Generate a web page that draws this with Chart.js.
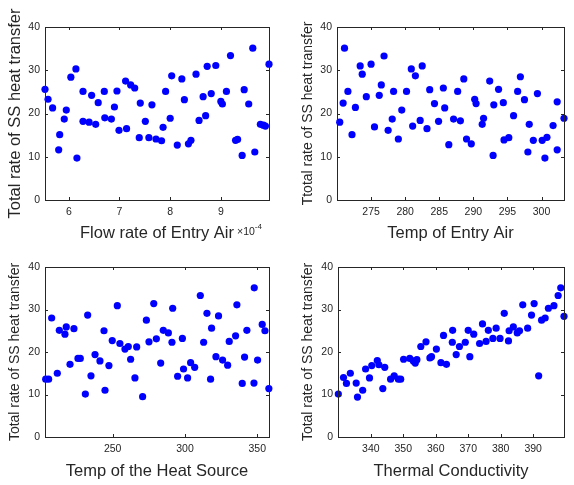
<!DOCTYPE html>
<html>
<head>
<meta charset="utf-8">
<script src="https://cdn.jsdelivr.net/npm/chart.js@4.4.1/dist/chart.umd.min.js"></script>
<style>
  html, body { margin: 0; padding: 0; background: #fff; }
  body { width: 574px; height: 485px; position: relative; overflow: hidden; }
  canvas { position: absolute; }
</style>
</head>
<body>
<canvas id="c1" width="287" height="245" style="left:0;top:0"></canvas>
<canvas id="c2" width="287" height="245" style="left:287px;top:0"></canvas>
<canvas id="c3" width="287" height="240" style="left:0;top:245px"></canvas>
<canvas id="c4" width="287" height="240" style="left:287px;top:245px"></canvas>
<script>
// flow rate of entry air, in units of 1e-4
var flowX = [5.53, 5.59, 5.68, 5.80, 5.82, 5.91, 5.95, 6.04, 6.14, 6.16, 6.28, 6.28, 6.40, 6.45, 6.53, 6.58,
  6.70, 6.71, 6.84, 6.90, 6.95, 6.99, 7.12, 7.14, 7.22, 7.30, 7.39, 7.41, 7.51, 7.58, 7.64, 7.72,
  7.83, 7.86, 7.91, 8.00, 8.03, 8.14, 8.23, 8.28, 8.36, 8.41, 8.51, 8.57, 8.65, 8.70, 8.73, 8.81,
  8.90, 9.00, 9.03, 9.11, 9.19, 9.29, 9.33, 9.42, 9.46, 9.55, 9.63, 9.67, 9.78, 9.84, 9.88, 9.95];
var flowY = [25.6, 23.3, 21.3, 11.6, 15.1, 18.7, 20.8, 28.4, 30.3, 9.7, 25.1, 18.2, 18.0, 24.2, 17.5, 22.5,
  25.1, 19.0, 18.7, 21.5, 25.2, 16.1, 27.5, 16.5, 26.6, 25.9, 14.4, 22.4, 18.2, 14.4, 22.0, 14.1,
  13.7, 16.8, 25.1, 18.9, 28.7, 12.7, 28.0, 23.2, 13.0, 13.8, 29.1, 18.4, 23.9, 19.5, 30.9, 24.6,
  31.1, 22.8, 22.2, 25.1, 33.4, 13.8, 14.0, 10.3, 25.5, 22.2, 35.1, 11.1, 17.5, 17.3, 17.1, 31.4];

var entryTempX = [270.4, 270.9, 271.1, 271.6, 272.2, 272.7, 273.4, 273.7, 274.3, 275.0, 275.5, 276.2, 276.5, 276.9, 277.5, 278.1,
  278.3, 279.0, 279.5, 280.2, 280.9, 281.1, 281.5, 282.2, 282.5, 283.2, 283.6, 284.3, 284.9, 285.6, 285.8, 286.4,
  287.1, 287.7, 288.1, 288.6, 289.0, 289.7, 290.2, 290.4, 291.3, 291.5, 292.4, 292.9, 293.0, 293.7, 294.4, 294.5,
  295.2, 295.9, 296.5, 296.9, 297.5, 298.0, 298.2, 298.8, 299.4, 300.1, 300.5, 300.8, 301.7, 302.3, 302.3, 303.3];
var entryTempY = [18.0, 22.4, 35.1, 25.1, 15.1, 21.4, 31.0, 29.1, 23.9, 31.4, 16.9, 24.2, 26.6, 33.3, 16.1, 18.7,
  25.1, 14.1, 20.8, 25.1, 30.3, 17.1, 28.7, 18.4, 31.0, 16.5, 25.5, 22.3, 18.2, 25.9, 21.3, 12.8,
  18.7, 25.1, 18.3, 28.0, 14.1, 13.0, 23.3, 22.3, 17.5, 18.9, 27.5, 10.3, 22.0, 25.6, 22.5, 13.9,
  14.4, 19.5, 25.1, 28.5, 23.2, 11.1, 17.5, 13.8, 24.6, 13.8, 9.7, 14.5, 17.2, 22.7, 11.6, 18.9];

var sourceTempX = [203.7, 205.7, 207.8, 211.7, 213.1, 217.0, 217.9, 220.5, 223.2, 226.0, 227.6, 231.1, 232.7, 235.0, 237.8, 241.2,
  244.0, 244.7, 247.4, 249.7, 253.2, 255.0, 258.5, 260.8, 262.4, 265.4, 266.6, 270.7, 273.3, 275.1, 278.4, 280.2,
  283.2, 285.0, 288.5, 291.0, 291.5, 294.9, 298.2, 299.0, 301.8, 303.9, 306.7, 310.6, 312.9, 315.2, 317.7, 318.4,
  321.4, 323.2, 326.0, 329.5, 330.6, 335.0, 335.9, 339.6, 341.2, 342.8, 347.7, 347.9, 350.2, 353.4, 355.3, 358.0];
var sourceTempY = [13.6, 13.6, 28.0, 15.0, 25.1, 24.2, 25.9, 17.1, 25.5, 18.5, 18.5, 10.1, 28.7, 14.4, 19.4, 17.9,
  25.0, 11.0, 16.8, 22.7, 30.9, 22.0, 20.7, 21.3, 18.3, 13.9, 21.2, 9.5, 27.5, 22.4, 31.4, 23.1,
  17.4, 25.1, 24.5, 22.3, 30.3, 14.3, 23.2, 16.0, 13.9, 17.5, 16.4, 33.3, 22.3, 29.1, 13.6, 25.6,
  18.9, 28.5, 18.1, 16.9, 22.5, 23.8, 31.1, 12.6, 18.8, 25.1, 12.7, 35.1, 18.1, 26.5, 25.0, 11.4];

var condX = [330.0, 331.6, 332.5, 333.7, 335.5, 335.9, 337.5, 338.4, 339.6, 340.3, 342.0, 342.5, 343.7, 344.3, 346.1, 347.2,
  348.5, 349.2, 350.1, 352.0, 353.1, 353.7, 354.2, 355.4, 357.0, 358.2, 358.7, 360.2, 361.6, 362.4, 363.3, 365.2,
  365.1, 366.3, 367.3, 369.1, 370.0, 370.5, 371.7, 373.5, 374.4, 375.5, 376.2, 377.6, 378.6, 379.8, 381.1, 382.4,
  382.6, 383.9, 385.1, 385.8, 386.8, 388.3, 389.5, 390.3, 391.7, 392.6, 393.7, 394.7, 396.4, 397.7, 398.5, 399.5];
var condY = [10.1, 14.0, 12.6, 15.0, 12.7, 9.4, 11.0, 16.0, 13.9, 16.8, 18.0, 17.0, 11.4, 16.4, 13.6, 14.4,
  13.6, 13.6, 18.3, 18.5, 17.9, 17.4, 18.2, 21.3, 22.4, 18.6, 18.9, 20.7, 17.5, 23.9, 17.1, 25.1,
  22.3, 19.4, 21.3, 22.3, 25.1, 18.9, 24.2, 22.0, 26.6, 22.5, 25.1, 23.2, 25.6, 23.2, 29.1, 22.6,
  25.0, 25.9, 24.5, 25.0, 31.1, 25.6, 28.7, 31.4, 14.4, 27.5, 28.0, 30.3, 30.9, 33.3, 35.1, 28.4];

var yTicks = [0, 10, 20, 30, 40];
var flowTicks = [6, 7, 8, 9];
var entryTempTicks = [275, 280, 285, 290, 295, 300];
var sourceTempTicks = [250, 300, 350];
var condTicks = [340, 350, 360, 370, 380, 390];

var axisColor = '#262626';
Chart.defaults.font.family = "'Liberation Sans', Arial, sans-serif";

// MATLAB-like frame: box, inward ticks on all four sides, rotated y label
var framePlugin = {
  id: 'frame',
  afterDatasetsDraw: function (chart, args, opts) {
    var ctx = chart.ctx;
    var a = chart.chartArea;
    var xs = chart.scales.x, ys = chart.scales.y;
    var tl = 3;
    ctx.save();
    ctx.strokeStyle = axisColor;
    ctx.lineWidth = 1;
    ctx.strokeRect(Math.round(a.left) + 0.5, Math.round(a.top) + 0.5,
      Math.round(a.right - a.left), Math.round(a.bottom - a.top));
    ctx.beginPath();
    xs.ticks.forEach(function (t) {
      var px = Math.round(xs.getPixelForValue(t.value)) + 0.5;
      ctx.moveTo(px, a.bottom); ctx.lineTo(px, a.bottom - tl);
      ctx.moveTo(px, a.top); ctx.lineTo(px, a.top + tl);
    });
    ys.ticks.forEach(function (t) {
      var py = Math.round(ys.getPixelForValue(t.value)) + 0.5;
      ctx.moveTo(a.left, py); ctx.lineTo(a.left + tl, py);
      ctx.moveTo(a.right, py); ctx.lineTo(a.right - tl, py);
    });
    ctx.stroke();

    // y title
    ctx.fillStyle = axisColor;
    ctx.font = opts.ySize + "px 'Liberation Sans', Arial, sans-serif";
    ctx.textAlign = 'center';
    ctx.textBaseline = 'middle';
    ctx.translate(opts.yTitleX, (a.top + a.bottom) / 2);
    ctx.rotate(-Math.PI / 2);
    ctx.fillText(opts.yTitle, 0, 0);
    ctx.restore();

    if (opts.exponent) {
      ctx.save();
      ctx.fillStyle = axisColor;
      ctx.textBaseline = 'alphabetic';
      ctx.textAlign = 'left';
      ctx.font = "10.5px 'Liberation Sans', Arial, sans-serif";
      ctx.fillText('\u00d710', a.right - 32, 235);
      var w = ctx.measureText('\u00d710').width;
      ctx.font = "8px 'Liberation Sans', Arial, sans-serif";
      ctx.fillText(opts.exponent, a.right - 32 + w, 229);
      ctx.restore();
    }
  }
};

function makePanel(id, xs, ys, o) {
  var points = xs.map(function (x, i) { return { x: x, y: ys[i] }; });
  new Chart(document.getElementById(id), {
    type: 'scatter',
    data: {
      datasets: [{
        data: points,
        backgroundColor: '#0000ff',
        borderColor: '#0000ff',
        borderWidth: 0,
        pointRadius: 3.6,
        pointHoverRadius: 3.6,
        clip: false
      }]
    },
    options: {
      responsive: false,
      animation: false,
      events: [],
      layout: { padding: { left: 0, right: o.padRight, top: o.padTop, bottom: 0 } },
      plugins: {
        legend: { display: false },
        tooltip: { enabled: false },
        frame: { yTitle: o.yTitle, ySize: o.ySize, yTitleX: o.yTitleX, exponent: o.exponent }
      },
      scales: {
        x: {
          type: 'linear',
          min: o.xMin,
          max: o.xMax,
          grid: { display: false, drawTicks: false },
          border: { display: false },
          afterBuildTicks: function (s) { s.ticks = o.xTicks.map(function (v) { return { value: v }; }); },
          afterFit: function (s) { s.height = o.xH; },
          ticks: { color: axisColor, font: { size: 10.5 }, padding: 6, maxRotation: 0, autoSkip: false },
          title: {
            display: true, text: o.xTitle, color: axisColor,
            font: { size: 16.5 }, padding: { top: 0, bottom: o.xTitlePad }
          }
        },
        y: {
          type: 'linear',
          min: 0,
          max: 40,
          grid: { display: false, drawTicks: false },
          border: { display: false },
          afterBuildTicks: function (s) { s.ticks = yTicks.map(function (v) { return { value: v }; }); },
          afterFit: function (s) { s.width = o.yW; },
          ticks: { color: axisColor, font: { size: 10.5 }, padding: 5 }
        }
      }
    },
    plugins: [framePlugin]
  });
}

makePanel('c1', flowX, flowY, {
  xMin: 5.53, xMax: 9.95, xTicks: flowTicks, xTitle: 'Flow rate of Entry Air',
  yTitle: 'Total rate of SS heat transfer', ySize: 16.5, yTitleX: 15,
  yW: 45, padRight: 18, padTop: 27, xH: 45, xTitlePad: 2, exponent: '-4'
});
makePanel('c2', entryTempX, entryTempY, {
  xMin: 270.0, xMax: 303.3, xTicks: entryTempTicks, xTitle: 'Temp of Entry Air',
  yTitle: 'Ttotal rate of SS heat transfer', ySize: 14, yTitleX: 21,
  yW: 50, padRight: 10, padTop: 27, xH: 45, xTitlePad: 2
});
makePanel('c3', sourceTempX, sourceTempY, {
  xMin: 203.2, xMax: 358.1, xTicks: sourceTempTicks, xTitle: 'Temp of the Heat Source',
  yTitle: 'Total rate of SS heat transfer', ySize: 14, yTitleX: 15,
  yW: 45, padRight: 18, padTop: 22, xH: 48, xTitlePad: 4
});
makePanel('c4', condX, condY, {
  xMin: 329.9, xMax: 399.5, xTicks: condTicks, xTitle: 'Thermal Conductivity',
  yTitle: 'Total rate of SS heat transfer', ySize: 14, yTitleX: 21,
  yW: 51, padRight: 10, padTop: 22, xH: 48, xTitlePad: 4
});
</script>
</body>
</html>
